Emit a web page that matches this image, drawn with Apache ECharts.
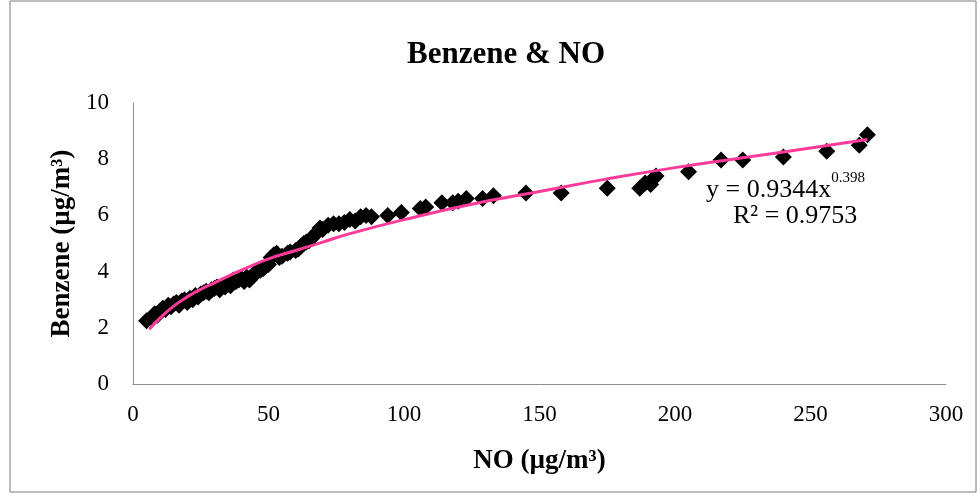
<!DOCTYPE html>
<html>
<head>
<meta charset="utf-8">
<script src="https://cdn.jsdelivr.net/npm/echarts@6/dist/echarts.min.js"></script>
<style>html,body{margin:0;padding:0;background:#fff}#c{width:980px;height:497px}</style>
</head>
<body>
<div id="c"></div>
<script>
// NO (µg/m³) values of the measured points
const noValues = [5,7,8,9,10,11,12,13,14,15,16,17,18,19,20,21,22,23,24,25,26,27,28,29,30,31,32,33,34,35,36,37,38,39,40,41,42,43,44,45,46,47,48,49,50,51,52,53,54,55,57,58,60,61,62,63,64,65,66,67,68,69,70,72,74,76,78,80,82,84,86,88,94,99,106,108,114,118,120,123,129,133,145,158,175,187,189,191,192,193,205,217,225,240,256,268,271];
// Benzene (µg/m³) values of the measured points
const benzeneValues = [2.25,2.35,2.5,2.45,2.6,2.7,2.65,2.8,2.75,2.85,2.9,2.8,2.95,3.0,2.9,3.05,3.0,3.15,3.1,3.2,3.25,3.3,3.25,3.35,3.4,3.45,3.35,3.5,3.45,3.55,3.5,3.7,3.65,3.7,3.75,3.65,3.8,3.7,3.85,3.95,4.0,4.05,4.1,4.2,4.25,4.5,4.6,4.65,4.5,4.55,4.65,4.7,4.75,4.8,4.9,5.0,5.05,5.1,5.2,5.3,5.4,5.55,5.5,5.65,5.7,5.7,5.75,5.85,5.8,5.95,6.0,5.95,6.0,6.1,6.25,6.3,6.45,6.45,6.5,6.6,6.6,6.7,6.8,6.8,6.97,6.97,7.15,7.1,7.3,7.4,7.55,7.97,7.97,8.08,8.28,8.5,8.87];
// Trendline (power fit) as drawn in the picture
const trendX = [6,10,15,20,25,30,40,50,60,70,80,100,125,150,175,200,225,250,271];
const trendY = [1.95,2.35,2.77,3.1,3.37,3.6,4.05,4.45,4.75,5.05,5.35,5.85,6.4,6.85,7.3,7.7,8.05,8.4,8.7];
const xTicks = [0,50,100,150,200,250,300];
const yTicks = [0,2,4,6,8,10];

const pts = noValues.map((x,i)=>[x,benzeneValues[i]]);
const trend = trendX.map((x,i)=>[x,trendY[i]]);
const FONT = '"Liberation Serif","Times New Roman",serif';

const chart = echarts.init(document.getElementById('c'));
chart.setOption({
  animation:false,
  backgroundColor:'#fff',
  title:{text:'Benzene & NO',left:402,top:34,textStyle:{fontFamily:FONT,fontSize:31,fontWeight:'bold',color:'#000'}},
  grid:{left:133,right:34,top:103,bottom:113},
  xAxis:{type:'value',min:xTicks[0],max:xTicks[xTicks.length-1],interval:50,
    name:'NO (µg/m³)',nameLocation:'middle',nameGap:64,
    nameTextStyle:{fontFamily:FONT,fontSize:27,fontWeight:'bold',color:'#000'},
    axisLine:{show:true,lineStyle:{color:'#8c8c8c',width:1}},axisTick:{show:false},splitLine:{show:false},
    axisLabel:{fontFamily:FONT,fontSize:23,color:'#000',margin:19}},
  yAxis:{type:'value',min:yTicks[0],max:yTicks[yTicks.length-1],interval:2,
    name:'Benzene (µg/m³)',nameLocation:'middle',nameGap:56,
    nameTextStyle:{fontFamily:FONT,fontSize:27,fontWeight:'bold',color:'#000'},
    axisLine:{show:true,lineStyle:{color:'#8c8c8c',width:1}},axisTick:{show:false},splitLine:{show:false},
    axisLabel:{fontFamily:FONT,fontSize:23,color:'#000',margin:24}},
  graphic:[
    {type:'rect',shape:{x:10,y:1,width:966,height:491},style:{fill:'none',stroke:'#7a7a7a',lineWidth:1},z:-1},
    {type:'text',left:706,top:171,style:{
      text:'{n|y = 0.9344x}{s|0.398}',
      rich:{n:{fontFamily:FONT,fontSize:26,color:'#000',lineHeight:32,verticalAlign:'bottom'},
            s:{fontFamily:FONT,fontSize:15,color:'#000',lineHeight:32,verticalAlign:'top',padding:[0,0,10,0]}}}},
    {type:'text',left:733,top:203,style:{text:'R² = 0.9753',fontFamily:FONT,fontSize:26,fill:'#000'}}
  ],
  series:[
    {type:'scatter',data:pts,symbol:'diamond',symbolSize:17,itemStyle:{color:'#000',opacity:1},z:2},
    {type:'line',data:trend,smooth:true,showSymbol:false,lineStyle:{color:'#FF3B9A',width:3},z:3}
  ]
});
</script>
</body>
</html>
